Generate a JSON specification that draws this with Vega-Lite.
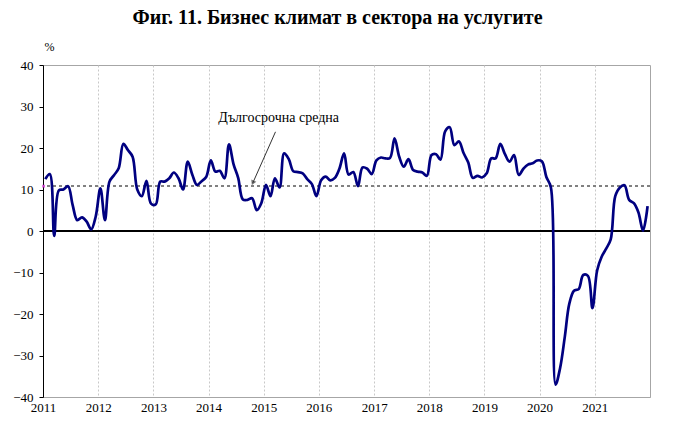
{
  "$schema": "https://vega.github.io/schema/vega-lite/v6.json",
  "width": 607,
  "height": 332,
  "autosize": {"type": "none"},
  "padding": {"left": 43, "top": 65, "right": 25, "bottom": 35},
  "background": "white",
  "title": {"text": "Фиг. 11. Бизнес климат в сектора на услугите", "font": "Liberation Serif", "fontSize": 20, "fontWeight": "bold", "color": "black", "anchor": "middle", "dx": -9, "offset": 12},
  "config": {
    "view": {"stroke": "#a6a6a6", "strokeWidth": 1},
    "axis": {"labelFont": "Liberation Serif", "labelFontSize": 13, "labelColor": "black"}
  },
  "datasets": {
    "series": [
      {"d": "2011-01-16", "v": 12.5}, {"d": "2011-02-15", "v": 13.7}, {"d": "2011-03-16", "v": -1.2}, {"d": "2011-04-16", "v": 9.8}, {"d": "2011-05-16", "v": 10}, {"d": "2011-06-16", "v": 10.8}, {"d": "2011-07-16", "v": 6.3}, {"d": "2011-08-16", "v": 2.6}, {"d": "2011-09-16", "v": 3.3}, {"d": "2011-10-16", "v": 2.3}, {"d": "2011-11-16", "v": 0.4}, {"d": "2011-12-16", "v": 3.5},
      {"d": "2012-01-16", "v": 10.3}, {"d": "2012-02-15", "v": 2.6}, {"d": "2012-03-16", "v": 11.9}, {"d": "2012-04-16", "v": 13.5}, {"d": "2012-05-16", "v": 15.1}, {"d": "2012-06-16", "v": 21}, {"d": "2012-07-16", "v": 19.5}, {"d": "2012-08-16", "v": 17.9}, {"d": "2012-09-16", "v": 10}, {"d": "2012-10-16", "v": 8.4}, {"d": "2012-11-16", "v": 12.1}, {"d": "2012-12-16", "v": 6.6},
      {"d": "2013-01-16", "v": 6.4}, {"d": "2013-02-15", "v": 11.9}, {"d": "2013-03-16", "v": 11.9}, {"d": "2013-04-16", "v": 12.7}, {"d": "2013-05-16", "v": 14.1}, {"d": "2013-06-16", "v": 12.7}, {"d": "2013-07-16", "v": 10}, {"d": "2013-08-16", "v": 16.7}, {"d": "2013-09-16", "v": 13.5}, {"d": "2013-10-16", "v": 11.1}, {"d": "2013-11-16", "v": 12}, {"d": "2013-12-16", "v": 13},
      {"d": "2014-01-16", "v": 17}, {"d": "2014-02-15", "v": 14.3}, {"d": "2014-03-16", "v": 14.5}, {"d": "2014-04-16", "v": 12.7}, {"d": "2014-05-16", "v": 20.9}, {"d": "2014-06-16", "v": 16}, {"d": "2014-07-16", "v": 12.8}, {"d": "2014-08-16", "v": 7.6}, {"d": "2014-09-16", "v": 7.5}, {"d": "2014-10-16", "v": 7.9}, {"d": "2014-11-16", "v": 5}, {"d": "2014-12-16", "v": 6.7},
      {"d": "2015-01-16", "v": 11.1}, {"d": "2015-02-15", "v": 8.4}, {"d": "2015-03-16", "v": 12.7}, {"d": "2015-04-16", "v": 10.5}, {"d": "2015-05-16", "v": 18.7}, {"d": "2015-06-16", "v": 17.3}, {"d": "2015-07-16", "v": 14.4}, {"d": "2015-08-16", "v": 14.2}, {"d": "2015-09-16", "v": 13.9}, {"d": "2015-10-16", "v": 12.5}, {"d": "2015-11-16", "v": 11.3}, {"d": "2015-12-16", "v": 8.4},
      {"d": "2016-01-16", "v": 12.2}, {"d": "2016-02-15", "v": 13.1}, {"d": "2016-03-16", "v": 12.2}, {"d": "2016-04-16", "v": 12.8}, {"d": "2016-05-16", "v": 15}, {"d": "2016-06-16", "v": 18.7}, {"d": "2016-07-16", "v": 13.6}, {"d": "2016-08-16", "v": 14.2}, {"d": "2016-09-16", "v": 10.8}, {"d": "2016-10-16", "v": 15.3}, {"d": "2016-11-16", "v": 15}, {"d": "2016-12-16", "v": 13.7},
      {"d": "2017-01-16", "v": 17}, {"d": "2017-02-15", "v": 17.7}, {"d": "2017-03-16", "v": 17.5}, {"d": "2017-04-16", "v": 17.6}, {"d": "2017-05-16", "v": 22.3}, {"d": "2017-06-16", "v": 17.9}, {"d": "2017-07-16", "v": 15.5}, {"d": "2017-08-16", "v": 17.3}, {"d": "2017-09-16", "v": 14.7}, {"d": "2017-10-16", "v": 14.3}, {"d": "2017-11-16", "v": 14.1}, {"d": "2017-12-16", "v": 13.3},
      {"d": "2018-01-16", "v": 18.3}, {"d": "2018-02-15", "v": 18.5}, {"d": "2018-03-16", "v": 17.2}, {"d": "2018-04-16", "v": 24}, {"d": "2018-05-16", "v": 25}, {"d": "2018-06-16", "v": 20.7}, {"d": "2018-07-16", "v": 21.6}, {"d": "2018-08-16", "v": 18.8}, {"d": "2018-09-16", "v": 16.5}, {"d": "2018-10-16", "v": 12.8}, {"d": "2018-11-16", "v": 13.3}, {"d": "2018-12-16", "v": 12.9},
      {"d": "2019-01-16", "v": 13.9}, {"d": "2019-02-15", "v": 17.5}, {"d": "2019-03-16", "v": 17.5}, {"d": "2019-04-16", "v": 21}, {"d": "2019-05-16", "v": 18.6}, {"d": "2019-06-16", "v": 16.7}, {"d": "2019-07-16", "v": 18.3}, {"d": "2019-08-16", "v": 13.5}, {"d": "2019-09-16", "v": 15}, {"d": "2019-10-16", "v": 16}, {"d": "2019-11-16", "v": 16.3}, {"d": "2019-12-16", "v": 17},
      {"d": "2020-01-16", "v": 16.8}, {"d": "2020-02-15", "v": 13}, {"d": "2020-03-16", "v": 10.5}, {"d": "2020-04-16", "v": -37}, {"d": "2020-05-16", "v": -33}, {"d": "2020-06-16", "v": -25.5}, {"d": "2020-07-16", "v": -17.5}, {"d": "2020-08-16", "v": -14.4}, {"d": "2020-09-16", "v": -14}, {"d": "2020-10-16", "v": -10.6}, {"d": "2020-11-16", "v": -10.8}, {"d": "2020-12-16", "v": -18.6},
      {"d": "2021-01-16", "v": -9.5}, {"d": "2021-02-15", "v": -6.2}, {"d": "2021-03-16", "v": -4.3}, {"d": "2021-04-16", "v": -2}, {"d": "2021-05-16", "v": 8.4}, {"d": "2021-06-16", "v": 10.5}, {"d": "2021-07-16", "v": 11}, {"d": "2021-08-16", "v": 7.5}, {"d": "2021-09-16", "v": 6.7}, {"d": "2021-10-16", "v": 4.5}, {"d": "2021-11-16", "v": 0.1}, {"d": "2021-12-16", "v": 6}
    ],
    "label": [{"d": "2015-04-10", "v": 27.2, "t": "Дългосрочна средна"}],
    "arrow": [{"d": "2015-03-20", "v": 23.9, "d2": "2014-10-21", "v2": 11.6}],
    "head": [{"d": "2014-10-21", "v": 11.6}],
    "marker": [{"d": "2011-01-05", "v": 10.8}]
  },
  "layer": [
    {
      "data": {"name": "series"},
      "mark": {"type": "rule", "color": "#808080", "strokeWidth": 1, "strokeDash": [3, 3]},
      "encoding": {"y": {"datum": 10.8, "type": "quantitative"}}
    },
    {
      "data": {"name": "series"},
      "mark": {"type": "rule", "color": "black", "strokeWidth": 1},
      "encoding": {"y": {"datum": 0, "type": "quantitative"}}
    },
    {
      "data": {"name": "series"},
      "mark": {"type": "line", "color": "#000080", "strokeWidth": 2.7, "interpolate": "catmull-rom"},
      "encoding": {
        "x": {
          "field": "d", "type": "temporal",
          "scale": {"type": "utc", "domain": [{"year": 2011, "month": 1, "date": 1, "utc": true}, {"year": 2022, "month": 1, "date": 1, "utc": true}]},
          "axis": {
            "title": null, "format": "%Y", "labelFlush": false, "ticks": false, "labelPadding": 4,
            "labelFont": "Liberation Serif", "labelFontSize": 13, "labelColor": "black",
            "grid": true, "gridColor": "#c8c8c8", "gridDash": [2, 2], "domainColor": "#a6a6a6",
            "values": [
              {"year": 2011, "month": 1, "date": 1, "utc": true}, {"year": 2012, "month": 1, "date": 1, "utc": true},
              {"year": 2013, "month": 1, "date": 1, "utc": true}, {"year": 2014, "month": 1, "date": 1, "utc": true},
              {"year": 2015, "month": 1, "date": 1, "utc": true}, {"year": 2016, "month": 1, "date": 1, "utc": true},
              {"year": 2017, "month": 1, "date": 1, "utc": true}, {"year": 2018, "month": 1, "date": 1, "utc": true},
              {"year": 2019, "month": 1, "date": 1, "utc": true}, {"year": 2020, "month": 1, "date": 1, "utc": true},
              {"year": 2021, "month": 1, "date": 1, "utc": true}
            ]
          }
        },
        "y": {
          "field": "v", "type": "quantitative",
          "scale": {"domain": [-40, 40], "nice": false, "zero": false},
          "axis": {
            "values": [-40, -30, -20, -10, 0, 10, 20, 30, 40], "grid": false,
            "labelFont": "Liberation Serif", "labelFontSize": 13, "labelColor": "black",
            "domainColor": "black", "tickColor": "black", "tickSize": 4, "labelPadding": 6,
            "title": "%", "titleAngle": 0, "titleFont": "Liberation Serif", "titleFontSize": 12, "titleFontWeight": "normal", "titleColor": "black",
            "titleAlign": "left", "titleBaseline": "bottom", "titleX": 1, "titleY": -12
          }
        }
      }
    },
    {
      "data": {"name": "marker"},
      "mark": {"type": "point", "shape": "square", "filled": true, "color": "#d020d0", "size": 8},
      "encoding": {"x": {"field": "d", "type": "temporal"}, "y": {"field": "v", "type": "quantitative"}}
    },
    {
      "data": {"name": "label"},
      "mark": {"type": "text", "font": "Liberation Serif", "fontSize": 14, "color": "black", "align": "center", "baseline": "middle"},
      "encoding": {"x": {"field": "d", "type": "temporal"}, "y": {"field": "v", "type": "quantitative"}, "text": {"field": "t"}}
    },
    {
      "data": {"name": "arrow"},
      "mark": {"type": "rule", "color": "#333333", "strokeWidth": 1},
      "encoding": {
        "x": {"field": "d", "type": "temporal"}, "y": {"field": "v", "type": "quantitative"},
        "x2": {"field": "d2"}, "y2": {"field": "v2"}
      }
    },
    {
      "data": {"name": "head"},
      "mark": {"type": "point", "shape": "triangle-up", "filled": true, "color": "#333333", "size": 30, "angle": 204},
      "encoding": {"x": {"field": "d", "type": "temporal"}, "y": {"field": "v", "type": "quantitative"}}
    }
  ]
}
